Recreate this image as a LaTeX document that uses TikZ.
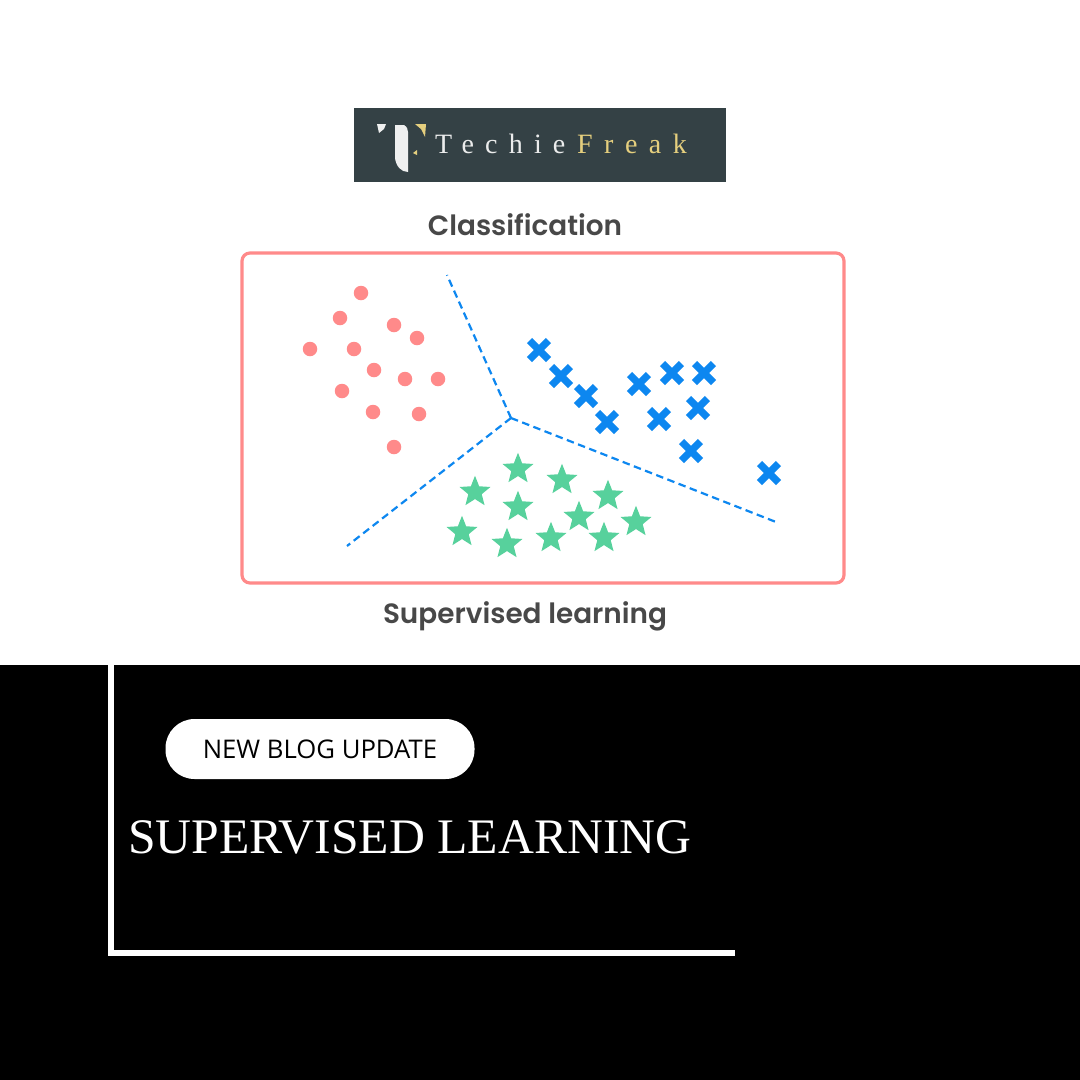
\documentclass[tikz,border=0pt]{standalone}
\usepackage{fontspec}
\setmainfont{Open Sans}
\newfontfamily\headfont{Poppins SemiBold}
\newfontfamily\titlefont{Liberation Serif}
\newfontfamily\logofont{Liberation Serif}
\usetikzlibrary{shapes.geometric}
\definecolor{salmon}{HTML}{FF8A8A}
\definecolor{bluex}{HTML}{0D87F0}
\definecolor{greenstar}{HTML}{57D19C}
\definecolor{slate}{HTML}{344145}
\definecolor{gold}{HTML}{E5CF7E}
\definecolor{greytxt}{HTML}{484848}
\tikzset{
  x=1pt,y=-1pt,
  dot/.style={circle,fill=salmon,minimum size=14.5pt,inner sep=0pt,outer sep=0pt},
  crossmark/.pic={\draw[bluex,line width=7.4pt] (-9.5,-9.5) -- (9.5,9.5) (-9.5,9.5) -- (9.5,-9.5);},
  starmark/.style={star,star points=5,star point ratio=2.3,fill=greenstar,minimum size=32.5pt,inner sep=0pt,outer sep=0pt},
  divider/.style={bluex,line width=2.2pt,dash pattern=on 7.5pt off 4.5pt},
  headtext/.style={font=\headfont\fontsize{27.9}{30}\selectfont,text=greytxt,inner sep=0pt},
}
\begin{document}
\begin{tikzpicture}
\useasboundingbox (0,0) rectangle (1080,1080);
\fill[white] (0,0) rectangle (1080,665);
\fill[black] (0,665) rectangle (1080,1080);
% logo
\fill[slate] (354,108) rectangle (726,182);
\fill[white!92!slate] (395,125) -- (404,125) .. controls (407,127) and (408,129) .. (408,132) -- (408,172) .. controls (401,172) and (396,166) .. (395,158) -- cycle;
\fill[white!92!slate] (377,124) -- (386,124) -- (384,129) -- (379,133) -- cycle;
\fill[gold] (415,124) -- (426,124) -- (425,137) -- (421,129) -- cycle;
\fill[gold] (417,150) -- (413,153) -- (417,155) -- cycle;
\node[inner sep=0pt,anchor=base west,text=white!90!slate,font=\logofont\fontsize{28}{30}\selectfont] (logoa) at (435,153) {\addfontfeature{LetterSpace=40}Techie};
\node[inner sep=0pt,anchor=base west,text=gold,font=\logofont\fontsize{28}{30}\selectfont] (logob) at (577,153) {\addfontfeature{LetterSpace=41}Freak};
% heading
\node[headtext,anchor=base] (classif) at (525,235) {Classification};
\node[headtext,anchor=base] (suplearn) at (525,623) {Supervised learning};
% frame
\draw[salmon,line width=3.2pt,rounded corners=8pt] (242,253) rectangle (844,583);
% dividers
\coordinate (hub) at (511,418);
\coordinate (endA) at (447,275);
\coordinate (endB) at (347,546);
\coordinate (endC) at (776,522);
\draw[divider] (hub) -- (endA);
\draw[divider] (hub) -- (endB);
\draw[divider] (hub) -- (endC);
% circles
\foreach \px/\py [count=\i] in {361/293,340/318,394/325,417/338,310/349,354/349,374/370,405/379,438/379,342/391,373/412,419/414,394/447}
  \node[dot] (c\i) at (\px,\py) {};
% crosses
\foreach \px/\py in {539/350,561/376,586/396,607/422,639/384,672/373,704/373,698/408,659/419,691/451,769/473}
  \pic at (\px,\py) {crossmark};
% stars
\foreach \px/\py [count=\i] in {518/469,562/480,475/492,608/496,518/507,579/517,636/522,462/532,507/544,551/538,604/538}
  \node[starmark] (s\i) at (\px,\py) {};
% lower panel
\draw[white,line width=6pt] (111,665) -- (111,953) -- (735,953);
\node[fill=white,rounded corners=29pt,minimum width=309pt,minimum height=60pt,inner sep=0pt] (pill) at (320,749) {};
\node[font=\fontsize{25.7}{28}\selectfont,text=black,inner sep=0pt] (pilltext) at (320,749) {NEW BLOG UPDATE};
\node[font=\titlefont\fontsize{49.7}{56}\selectfont,text=white,inner sep=0pt,anchor=base west] (title) at (128,853) {SUPERVISED LEARNING};
\end{tikzpicture}
\end{document}
